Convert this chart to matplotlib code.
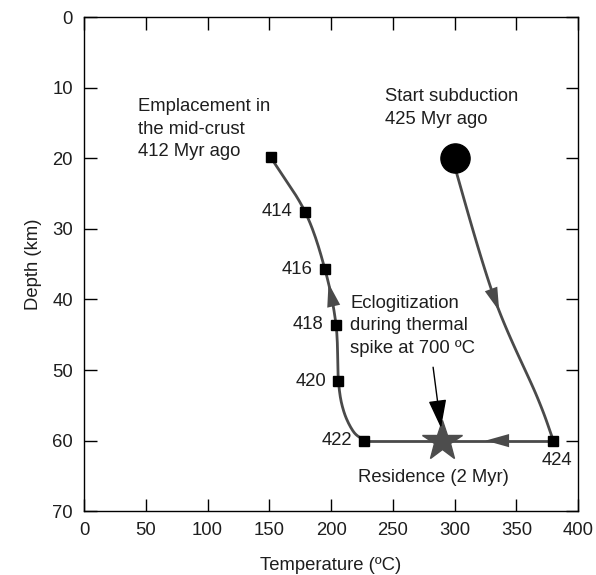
import numpy as np
import matplotlib
matplotlib.use("Agg")
import matplotlib.pyplot as plt

plt.rcParams['font.family'] = ['Liberation Sans', 'DejaVu Sans']

# ---- data ----
# exhumation path (markers with ages, Myr ago)
ages = ["412", "414", "416", "418", "420", "422"]
exh_T = [151, 179, 195, 204, 206, 227]
exh_D = [19.8, 27.6, 35.7, 43.6, 51.6, 60.0]
# extra shape points of the drawn exhumation curve
exh_curve_T = [151, 179, 195, 204, 206, 210, 218, 227]
exh_curve_D = [19.8, 27.6, 35.7, 43.6, 51.6, 55.7, 58.7, 60.0]
# subduction path
sub_T = [300, 302.8, 332.8, 366.8, 380]
sub_D = [20, 22.8, 40.1, 53.8, 60]
# residence at depth
res_T = [380, 227]
res_D = [60, 60]
start_T, start_D = 300, 20
star_T, star_D = 290, 60
age424_T, age424_D = 380, 60

xticks = [0, 50, 100, 150, 200, 250, 300, 350, 400]
yticks = [0, 10, 20, 30, 40, 50, 60, 70]


def catmull(xs, ys, n=20):
    p = np.column_stack([xs, ys]).astype(float)
    p = np.vstack([2 * p[0] - p[1], p, 2 * p[-1] - p[-2]])
    out = []
    for i in range(1, len(p) - 2):
        p0, p1, p2, p3 = p[i - 1], p[i], p[i + 1], p[i + 2]
        t = np.linspace(0, 1, n, endpoint=False)[:, None]
        seg = 0.5 * ((2 * p1) + (-p0 + p2) * t + (2 * p0 - 5 * p1 + 4 * p2 - p3) * t ** 2
                     + (-p0 + 3 * p1 - 3 * p2 + p3) * t ** 3)
        out.append(seg)
    out.append(p[-2][None, :])
    c = np.vstack(out)
    return c[:, 0], c[:, 1]


line_c = '#4a4a4a'
txt_c = '#1e1e1e'
fig = plt.figure(figsize=(5.96, 5.75), dpi=100)
ax = fig.add_axes([0.141, 0.111, 0.829, 0.859])

cx, cy = catmull(exh_curve_T, exh_curve_D)
ax.plot(cx, cy, color=line_c, lw=2.0, zorder=2)
sx, sy = catmull(sub_T, sub_D)
ax.plot(sx, sy, color=line_c, lw=2.0, zorder=2)
ax.plot(res_T, res_D, color=line_c, lw=2.0, zorder=2)

# direction arrowheads
def arrowhead(x0, y0, x1, y1):
    ax.annotate('', xy=(x1, y1), xytext=(x0, y0),
                arrowprops=dict(arrowstyle='-|>,head_length=1.0,head_width=0.28',
                                mutation_scale=17, color=line_c, lw=0,
                                shrinkA=0, shrinkB=0), zorder=3)

i = np.argmin(np.abs(sy - 41.3))
arrowhead(sx[i - 3], sy[i - 3], sx[i], sy[i])
j = np.argmin(np.abs(cy - 37.8))
arrowhead(cx[j + 3], cy[j + 3], cx[j], cy[j])
arrowhead(res_T[0] - 40, 60, res_T[0] - 55, 60)

ax.plot(exh_T, exh_D, 's', color='black', ms=7.5, zorder=4)
ax.plot([age424_T], [age424_D], 's', color='black', ms=7.5, zorder=4)
ax.plot([start_T], [start_D], 'o', color='black', ms=21, zorder=4)
ax.plot([star_T], [star_D], '*', color='#4d4d4d', ms=30, mec='#4d4d4d', zorder=5)

fs = 13.3
for a, t, d in zip(ages[1:], exh_T[1:], exh_D[1:]):
    ax.text(t - 10, d, a, ha='right', va='center', fontsize=fs, color=txt_c)
ax.text(age424_T + 3, age424_D + 1.6, "424", ha='center', va='top', fontsize=fs, color=txt_c)

ax.text(44, 11.4, "Emplacement in\nthe mid-crust\n412 Myr ago", ha='left', va='top',
        fontsize=fs, color=txt_c, linespacing=1.45)
ax.text(243.5, 10.0, "Start subduction\n425 Myr ago", ha='left', va='top',
        fontsize=fs, color=txt_c, linespacing=1.45)
ax.text(215.5, 39.3, "Eclogitization\nduring thermal\nspike at 700 ºC", ha='left', va='top',
        fontsize=fs, color=txt_c, linespacing=1.45)
ax.text(283, 65.2, "Residence (2 Myr)", ha='center', va='center', fontsize=fs, color=txt_c)

ax.annotate('', xy=(289, 58.2), xytext=(282.6, 49.6),
            arrowprops=dict(arrowstyle='-|>,head_length=1.1,head_width=0.35',
                            mutation_scale=16, color='black', lw=1.0,
                            shrinkA=0, shrinkB=0), zorder=6)

ax.set_xlim(0, 400)
ax.set_ylim(70, 0)
ax.set_xticks(xticks)
ax.set_yticks(yticks)
ax.tick_params(direction='in', length=9, width=1, top=True, right=True,
               labelsize=fs, colors='black', labelcolor=txt_c, pad=8)
for s in ax.spines.values():
    s.set_linewidth(1.0)
ax.set_xlabel("Temperature (ºC)", fontsize=fs, color=txt_c, labelpad=13)
ax.set_ylabel("Depth (km)", fontsize=fs, color=txt_c, labelpad=7)

fig.savefig("out.png", dpi=100)
